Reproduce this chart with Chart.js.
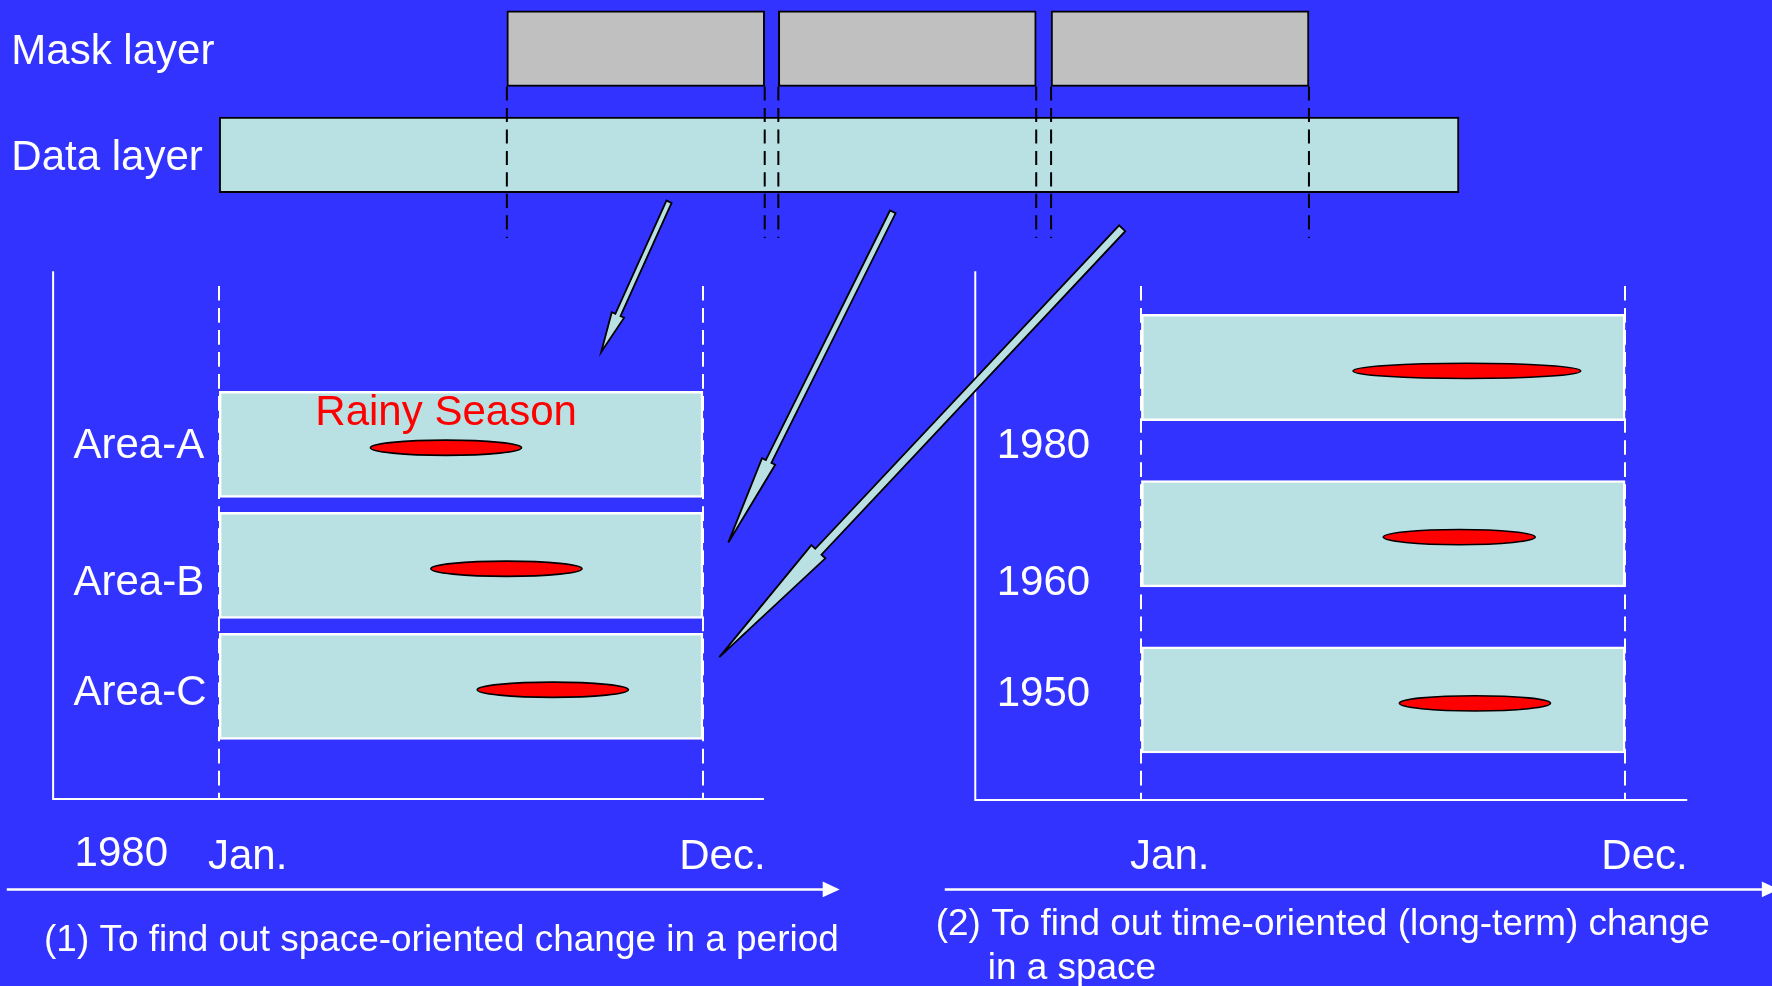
<!DOCTYPE html>
<html>
<head>
<meta charset="utf-8">
<title>Mask layer / Data layer</title>
<script src="https://cdn.jsdelivr.net/npm/chart.js@4.4.1/dist/chart.umd.min.js"></script>
<style>
  html, body { margin: 0; height: 100%; overflow: hidden; background: #3333ff; }
  #wrap { position: relative; width: 100vw; height: 100vh; }
</style>
</head>
<body>
<div id="wrap"><canvas id="layerChart"></canvas></div>
<script>
// ---- data ----
const layerNames = ['Mask layer', 'Data layer'];
const dataLayerSpan = [0, 100];                       // whole record (% of timeline)
const maskWindows = [[23.2, 44.0], [45.1, 65.9], [67.1, 87.9]];

const monthSpan = [0, 12];                            // Jan. .. Dec.
const monthTicks = ['Jan.', 'Dec.'];
const periodYear = '1980';

const areaNames = ['Area-A', 'Area-B', 'Area-C'];
const areaRainy = [[3.75, 7.5], [5.25, 9.0], [6.4, 10.15]];

const yearNames = ['1980', '1960', '1950'];
const yearRainy = [[5.25, 10.9], [6.0, 9.77], [6.4, 10.15]];

// ---- layout (reference units, 1568 x 872) ----
const REF_W = 1568, REF_H = 872;
const FONT = '"Liberation Sans", Arial, sans-serif';
const CYAN = '#b9e0e3';

function fit(d0, d1, p0, p1, total) {
  const per = (d1 - d0) / (p1 - p0);
  return { min: d0 - p0 * per, max: d1 + (total - p1) * per };
}

const panels = [
  { xs: 'xLeft', ys: 'yLeft', names: areaNames, nudge: [-1.5, 12.5, 3], labelX: 65,
    frame: { x: 47, top: 240, bottom: 707, right: 676 } },
  { xs: 'xRight', ys: 'yRight', names: yearNames, nudge: [67, 41, -8], labelX: 882,
    frame: { x: 863, top: 240, bottom: 708, right: 1493 } }
];

const notes = [
  { text: 'Rainy Season', x: 279, y: 363, size: 37.2, color: '#ff0000' },
  { text: periodYear, x: 66, y: 752.6, size: 37.2 },
  { text: '(1) To find out space-oriented change in a period', x: 39, y: 829.6, size: 32.7 },
  { text: '(2) To find out time-oriented (long-term) change', x: 828, y: 816, size: 32.7 },
  { text: 'in a space', x: 874, y: 855, size: 32.7 }
];

const timeArrows = [{ x0: 6, x1: 743, y: 787 }, { x0: 836, x1: 1574, y: 787 }];

const pointers = [
  { from: [592, 178.5], to: [532, 311.5], shaft: 5, head: 12, len: 36 },
  { from: [790, 187.5], to: [644.5, 480], shaft: 5.5, head: 13, len: 80 },
  { from: [993, 202], to: [636.5, 581.5], shaft: 7.5, head: 17, len: 128 }
];

const W = window.innerWidth;
const k = W / REF_W;

function label(ctx, str, x, y, size, color) {
  ctx.font = (size * k) + 'px ' + FONT;
  ctx.fillStyle = color || '#ffffff';
  ctx.textAlign = 'left';
  ctx.textBaseline = 'alphabetic';
  ctx.fillText(str, x, y + 0.358 * size * k);
}

const diagram = {
  id: 'diagram',
  beforeDatasetsDraw(chart) {
    const ctx = chart.ctx;
    ctx.save();
    ctx.strokeStyle = '#ffffff';
    panels.forEach(p => {
      const f = p.frame;
      ctx.setLineDash([]);
      ctx.lineWidth = 2;
      ctx.beginPath();
      ctx.moveTo(f.x * k, f.top * k);
      ctx.lineTo(f.x * k, f.bottom * k);
      ctx.lineTo(f.right * k, f.bottom * k);
      ctx.stroke();
      ctx.setLineDash([13 * k, 6.5 * k]);
      monthSpan.forEach(m => {
        const px = Math.round(chart.scales[p.xs].getPixelForValue(m));
        ctx.beginPath();
        ctx.moveTo(px, 253 * k);
        ctx.lineTo(px, f.bottom * k);
        ctx.stroke();
      });
    });
    ctx.restore();
  },
  afterDatasetsDraw(chart) {
    const ctx = chart.ctx;
    ctx.save();

    // rainy season ellipses
    chart.data.datasets.forEach((ds, i) => {
      if (!ds.ellipse) return;
      chart.getDatasetMeta(i).data.forEach(el => {
        const { x, y, base, height } = el.getProps(['x', 'y', 'base', 'height'], true);
        ctx.beginPath();
        ctx.ellipse((x + base) / 2, y + 3 * k, Math.abs(x - base) / 2, height / 2, 0, 0, Math.PI * 2);
        ctx.fillStyle = '#ff0000';
        ctx.fill();
        ctx.lineWidth = 1.6;
        ctx.strokeStyle = '#000000';
        ctx.stroke();
      });
    });

    // dashed guides under each mask window
    const maskMeta = chart.getDatasetMeta(0);
    ctx.strokeStyle = '#000000';
    ctx.lineWidth = 2;
    ctx.setLineDash([12.5 * k, 6.5 * k]);
    maskMeta.data.forEach(el => {
      const { x, y, base, height } = el.getProps(['x', 'y', 'base', 'height'], true);
      [base, x].forEach(px => {
        ctx.beginPath();
        ctx.moveTo(px, y + height / 2);
        ctx.lineTo(px, 210.5 * k);
        ctx.stroke();
      });
    });
    ctx.setLineDash([]);

    // layer names
    const yTop = chart.scales.yTop;
    layerNames.forEach((n, i) => label(ctx, n, 10 * k, yTop.getPixelForValue(i), 37.2));

    // panel labels and month ticks
    panels.forEach(p => {
      const ys = chart.scales[p.ys], xs = chart.scales[p.xs];
      p.names.forEach((n, i) => label(ctx, n, p.labelX * k, ys.getPixelForValue(i) + p.nudge[i] * k, 37.2));
      label(ctx, monthTicks[0], xs.getPixelForValue(monthSpan[0]) - 10 * k, 755.5 * k, 37.2);
      label(ctx, monthTicks[1], xs.getPixelForValue(monthSpan[1]) - 21 * k, 755.5 * k, 37.2);
    });

    notes.forEach(t => label(ctx, t.text, t.x * k, t.y * k, t.size, t.color));

    // time arrows
    ctx.strokeStyle = '#ffffff';
    ctx.fillStyle = '#ffffff';
    ctx.lineWidth = 2.5;
    timeArrows.forEach(a => {
      ctx.beginPath();
      ctx.moveTo(a.x0 * k, a.y * k);
      ctx.lineTo((a.x1 - 12) * k, a.y * k);
      ctx.stroke();
      ctx.beginPath();
      ctx.moveTo(a.x1 * k, a.y * k);
      ctx.lineTo((a.x1 - 15) * k, (a.y - 7) * k);
      ctx.lineTo((a.x1 - 15) * k, (a.y + 7) * k);
      ctx.closePath();
      ctx.fill();
    });

    // pointer arrows from the data layer
    pointers.forEach(a => {
      const [x0, y0] = a.from, [x1, y1] = a.to;
      const L = Math.hypot(x1 - x0, y1 - y0);
      const ux = (x1 - x0) / L, uy = (y1 - y0) / L;
      const nx = -uy, ny = ux;
      const bx = x1 - ux * a.len, by = y1 - uy * a.len;
      const s = a.shaft / 2, h = a.head / 2;
      const pts = [
        [x0 + nx * s, y0 + ny * s], [bx + nx * s, by + ny * s], [bx + nx * h, by + ny * h],
        [x1, y1],
        [bx - nx * h, by - ny * h], [bx - nx * s, by - ny * s], [x0 - nx * s, y0 - ny * s]
      ];
      ctx.beginPath();
      pts.forEach((pt, i) => (i ? ctx.lineTo(pt[0] * k, pt[1] * k) : ctx.moveTo(pt[0] * k, pt[1] * k)));
      ctx.closePath();
      ctx.fillStyle = CYAN;
      ctx.fill();
      ctx.lineWidth = 1.8;
      ctx.lineJoin = 'miter';
      ctx.strokeStyle = '#000000';
      ctx.stroke();
    });

    ctx.restore();
  }
};

const hidden = { type: 'linear', display: false, bounds: 'data', offset: false, grace: 0 };

new Chart(document.getElementById('layerChart'), {
  type: 'bar',
  data: {
    datasets: [
      {
        label: 'Mask layer', xAxisID: 'xTop', yAxisID: 'yTop',
        data: maskWindows.map(w => ({ y: 0, x: w })),
        backgroundColor: '#c0c0c0', borderColor: '#000000', borderWidth: 2,
        barThickness: 67 * k
      },
      {
        label: 'Data layer', xAxisID: 'xTop', yAxisID: 'yTop',
        data: [{ y: 1, x: dataLayerSpan }],
        backgroundColor: CYAN, borderColor: '#000000', borderWidth: 2,
        barThickness: 67 * k
      },
      {
        label: 'Areas', xAxisID: 'xLeft', yAxisID: 'yLeft',
        data: areaNames.map((n, i) => ({ y: i, x: monthSpan })),
        backgroundColor: CYAN, borderColor: '#ffffff', borderWidth: 2.5,
        barThickness: 94 * k
      },
      {
        label: 'Rainy season (areas)', xAxisID: 'xLeft', yAxisID: 'yLeft', ellipse: true,
        data: areaRainy.map((r, i) => ({ y: i, x: r })),
        backgroundColor: 'rgba(0,0,0,0)', borderWidth: 0,
        barThickness: 13.5 * k
      },
      {
        label: 'Years', xAxisID: 'xRight', yAxisID: 'yRight',
        data: yearNames.map((n, i) => ({ y: i, x: monthSpan })),
        backgroundColor: CYAN, borderColor: '#ffffff', borderWidth: 2.5,
        barThickness: 94 * k
      },
      {
        label: 'Rainy season (years)', xAxisID: 'xRight', yAxisID: 'yRight', ellipse: true,
        data: yearRainy.map((r, i) => ({ y: i, x: r })),
        backgroundColor: 'rgba(0,0,0,0)', borderWidth: 0,
        barThickness: 13.5 * k
      }
    ]
  },
  options: {
    indexAxis: 'y',
    responsive: true,
    maintainAspectRatio: false,
    animation: false,
    events: [],
    grouped: false,
    borderSkipped: false,
    layout: { padding: 0 },
    plugins: { legend: { display: false }, tooltip: { enabled: false } },
    scales: {
      xTop: { ...hidden, axis: 'x', ...fit(0, 100, 194, 1291, REF_W) },
      yTop: { ...hidden, axis: 'y', reverse: true, ...fit(0, 1, 43, 137, REF_H) },
      xLeft: { ...hidden, axis: 'x', ...fit(0, 12, 194, 622, REF_W) },
      yLeft: { ...hidden, axis: 'y', reverse: true, ...fit(0, 2, 393, 607, REF_H) },
      xRight: { ...hidden, axis: 'x', ...fit(0, 12, 1010, 1438, REF_W) },
      yRight: { ...hidden, axis: 'y', reverse: true, ...fit(0, 2, 325, 619, REF_H) }
    }
  },
  plugins: [diagram]
});
</script>
</body>
</html>
